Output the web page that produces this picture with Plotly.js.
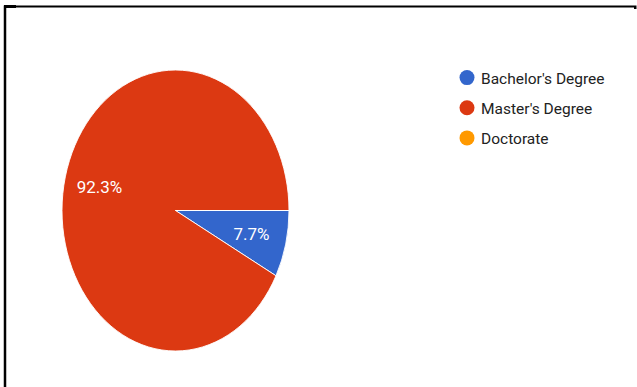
<!DOCTYPE html>
<html>
<head>
<meta charset="utf-8">
<script src="https://cdn.plot.ly/plotly-3.0.1.min.js"></script>
<style>
  html, body { margin: 0; padding: 0; background: #ffffff; }
  #chart { width: 637px; height: 387px; }
</style>
</head>
<body>
<div id="chart"></div>
<script>
// Highest degree held by respondents
const categories = ["Bachelor's Degree", "Master's Degree", "Doctorate"];
const responses = [1, 12, 0];
const sliceColors = ['#3366cc', '#dc3912', '#ff9900'];

const W = 637, H = 387;
// pie placement in pixels (centre and vertical radius), plus horizontal squeeze
const pieCx = 175.5, pieCy = 210.5, pieR = 140.5;
const squeeze = 113.5 / 140.5;
const labelRadius = 0.69;   // labels sit at this fraction of the radius, on each slice's mid angle

const pie = {
  type: 'pie',
  labels: categories,
  values: responses,
  marker: { colors: sliceColors, line: { color: '#ffffff', width: 1 } },
  sort: false,
  direction: 'clockwise',
  rotation: 90,
  texttemplate: '%{percent:.1%}',
  textposition: 'inside',
  insidetextorientation: 'horizontal',
  textfont: { family: 'Roboto, Arial, sans-serif', size: 17, color: '#ffffff' },
  showlegend: false,
  hoverinfo: 'none',
  domain: {
    x: [(pieCx - pieR) / W, (pieCx + pieR) / W],
    y: [(H - pieCy - pieR) / H, (H - pieCy + pieR) / H]
  }
};

// round legend markers, one entry per category
const legendTraces = categories.map((name, i) => ({
  type: 'scatter',
  x: [null], y: [null],
  mode: 'markers',
  name: name,
  legendgroup: 'g' + i,
  marker: { color: sliceColors[i], size: 15, symbol: 'circle' },
  hoverinfo: 'skip'
}));

const px = v => v / W;
const py = v => 1 - v / H;

const frame = [
  { type: 'line', xref: 'paper', yref: 'paper', x0: px(4), x1: px(634), y0: py(6.5), y1: py(6.5),
    line: { color: '#000000', width: 2 } },
  { type: 'line', xref: 'paper', yref: 'paper', x0: px(5), x1: px(5), y0: py(5.5), y1: 0,
    line: { color: '#000000', width: 2.5 } },
  { type: 'rect', xref: 'paper', yref: 'paper', x0: px(4), x1: px(16), y0: py(5), y1: py(8),
    fillcolor: '#000000', line: { width: 0 } },
  { type: 'rect', xref: 'paper', yref: 'paper', x0: px(634), x1: px(636.5), y0: py(5.5), y1: py(9),
    fillcolor: '#000000', line: { width: 0 } }
];

const layout = {
  width: W, height: H,
  margin: { l: 0, r: 0, t: 0, b: 0 },
  paper_bgcolor: '#ffffff',
  plot_bgcolor: '#ffffff',
  xaxis: { visible: false },
  yaxis: { visible: false },
  showlegend: true,
  legend: {
    x: px(447), y: py(61), xanchor: 'left', yanchor: 'top',
    font: { family: 'Roboto, Arial, sans-serif', size: 15.5, color: '#222222' },
    tracegroupgap: 7,
    bgcolor: 'rgba(0,0,0,0)', borderwidth: 0
  },
  shapes: frame
};

// mid angle of each slice, clockwise from 3 o'clock
const total = responses.reduce((a, b) => a + b, 0);
const midAngles = [];
let acc = 0;
responses.forEach(v => {
  midAngles.push(2 * Math.PI * (acc + v / 2) / total);
  acc += v;
});

Plotly.newPlot('chart', [pie].concat(legendTraces), layout, { staticPlot: true, displayModeBar: false })
  .then(gd => {
    const nonZero = responses.map((v, i) => i).filter(i => responses[i] > 0);
    gd.querySelectorAll('.pielayer .slice').forEach((sl, k) => {
      // squeeze the slice horizontally about the pie centre
      const path = sl.querySelector('path.surface');
      if (path) {
        path.setAttribute('transform',
          'translate(' + pieCx + ',0) scale(' + squeeze + ',1) translate(' + (-pieCx) + ',0)');
      }
      // keep the percentage upright, centred on the slice's mid angle
      const txt = sl.querySelector('g.slicetext');
      if (txt) {
        const d = sl.__data__;
        const idx = (d && typeof d.i === 'number') ? d.i : nonZero[k];
        const a = midAngles[idx];
        const tx = pieCx + pieR * squeeze * labelRadius * Math.cos(a);
        const ty = pieCy + pieR * labelRadius * Math.sin(a);
        const r = txt.getBoundingClientRect();
        const dx = tx - (r.left + r.right) / 2;
        const dy = ty - (r.top + r.bottom) / 2;
        txt.setAttribute('transform',
          'translate(' + dx + ',' + dy + ') ' + (txt.getAttribute('transform') || ''));
      }
    });
    // tighter gap between legend marker and label
    gd.querySelectorAll('.legend .legendtext').forEach(t => {
      t.setAttribute('x', 34);
    });
  });
</script>
</body>
</html>
